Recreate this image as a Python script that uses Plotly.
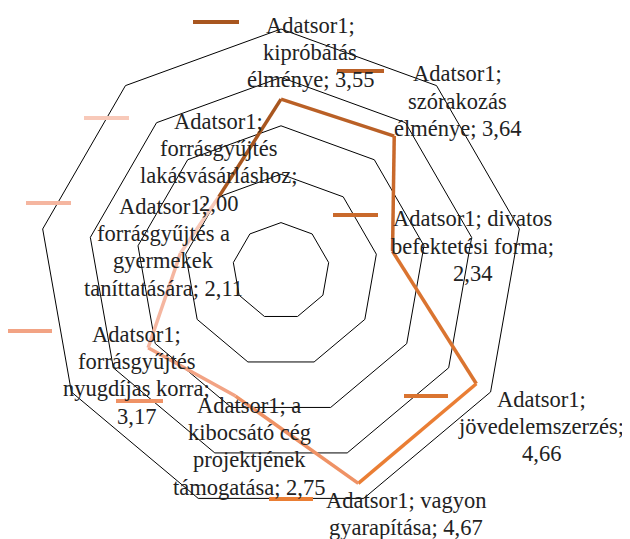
import plotly.graph_objects as go

series_name = "Adatsor1"
categories = [
    "kipróbálás élménye",
    "szórakozás élménye",
    "divatos befektetési forma",
    "jövedelemszerzés",
    "vagyon gyarapítása",
    "a kibocsátó cég projektjének támogatása",
    "forrásgyűjtés nyugdíjas korra",
    "forrásgyűjtés a gyermekek taníttatására",
    "forrásgyűjtés lakásvásárláshoz",
]
values = [3.55, 3.64, 2.34, 4.66, 4.67, 2.75, 3.17, 2.11, 2.00]
# how each data label is wrapped into lines
label_wraps = [
    ["Adatsor1;", "kipróbálás", "élménye; {v}"],
    ["Adatsor1;", "szórakozás", "élménye; {v}"],
    ["Adatsor1; divatos", "befektetési forma;", "{v}"],
    ["Adatsor1;", "jövedelemszerzés;", "{v}"],
    ["Adatsor1; vagyon", "gyarapítása; {v}"],
    ["Adatsor1; a", "kibocsátó cég", "projektjének", "támogatása; {v}"],
    ["Adatsor1;", "forrásgyűjtés", "nyugdíjas korra;", "{v}"],
    ["Adatsor1;", "forrásgyűjtés a", "gyermekek", "taníttatására; {v}"],
    ["Adatsor1;", "forrásgyűjtés", "lakásvásárláshoz;", "{v}"],
]
point_colors = [
    "#A8561F", "#BA6026", "#C9692B", "#DA7430", "#EA7E34",
    "#EF9265", "#F2A384", "#F5B6A0", "#F8C9B9",
]
radial_ticks = [1, 2, 3, 4, 5]

# ---- layout constants (window pixels) ----
OFF = 8                      # page body margin of the html page
W, H = 630 - OFF, 539 - OFF  # figure size so that it fits the window
# text-block: (centre x, first-line y) ; legend key: (x0, x1, y)
label_pos = [(310, 23), (457, 72), (472, 217), (541, 397), (406, 498),
             (249, 403), (136, 332), (163, 204), (218, 119)]
key_pos = [(193, 239, 22), (337, 384, 71), (333, 378, 215), (404, 448, 396),
           (269, 313, 499), (116, 163, 401), (8, 52, 331), (26, 71, 203),
           (84, 129, 118)]
LINE_GAP = 27.4
cx, cy, R = 281 - OFF, 271 - OFF, 242


def px(x):
    return (x - OFF) / W


def py(y):
    return 1 - (y - OFF) / H


fig = go.Figure()
n = len(categories)
for i in range(n):
    j = (i - 1) % n
    fig.add_trace(go.Scatterpolar(
        r=[values[j], values[i]],
        theta=[categories[j], categories[i]],
        mode="lines",
        line=dict(color=point_colors[i], width=3.5),
        showlegend=False,
        hoverinfo="skip",
    ))

font_family = "Liberation Serif, serif"
annotations = []
shapes = []
for i in range(n):
    v = f"{values[i]:.2f}".replace(".", ",")
    lx, ly = label_pos[i]
    for k, line in enumerate(label_wraps[i]):
        annotations.append(dict(
            x=px(lx), y=py(ly + 2 + k * LINE_GAP), xref="paper", yref="paper",
            text=line.format(v=v), showarrow=False,
            xanchor="center", yanchor="middle",
            font=dict(family=font_family, size=22.5, color="#222222"),
        ))
    x0, x1, ky = key_pos[i]
    shapes.append(dict(
        type="line", xref="paper", yref="paper",
        x0=px(x0), x1=px(x1), y0=py(ky), y1=py(ky),
        line=dict(color=point_colors[i], width=4),
    ))

fig.update_layout(
    width=W, height=H,
    margin=dict(l=0, r=0, t=0, b=0),
    paper_bgcolor="white",
    plot_bgcolor="white",
    showlegend=False,
    polar=dict(
        domain=dict(x=[(cx - R) / W, (cx + R) / W],
                    y=[(H - cy - R) / H, (H - cy + R) / H]),
        gridshape="linear",
        bgcolor="white",
        radialaxis=dict(range=[0, 5], tickvals=radial_ticks, showticklabels=False,
                        ticks="", showline=False, gridcolor="black", gridwidth=1),
        angularaxis=dict(rotation=90, direction="clockwise", showticklabels=False,
                         ticks="", showgrid=False, showline=True,
                         linecolor="black", linewidth=1,
                         categoryorder="array", categoryarray=categories),
    ),
    annotations=annotations,
    shapes=shapes,
)

fig.write_html("out.html")
